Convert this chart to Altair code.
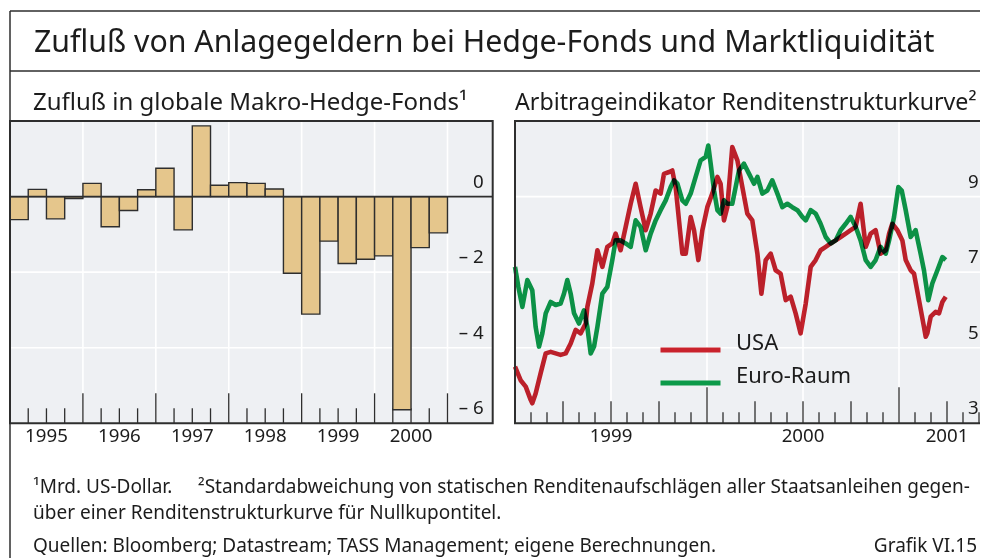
import altair as alt
import pandas as pd

# ---------------- data ----------------
# Left panel: quarterly inflows into global macro hedge funds (bn USD)
QUARTERS = ["1995 Q1", "1995 Q2", "1995 Q3", "1995 Q4",
            "1996 Q1", "1996 Q2", "1996 Q3", "1996 Q4",
            "1997 Q1", "1997 Q2", "1997 Q3", "1997 Q4",
            "1998 Q1", "1998 Q2", "1998 Q3", "1998 Q4",
            "1999 Q1", "1999 Q2", "1999 Q3", "1999 Q4",
            "2000 Q1", "2000 Q2", "2000 Q3", "2000 Q4"]
FLOWS = [-0.61, 0.19, -0.59, -0.05,
         0.35, -0.80, -0.37, 0.18,
         0.75, -0.88, 1.87, 0.30,
         0.37, 0.35, 0.20, -2.03,
         -3.11, -1.18, -1.77, -1.66,
         -1.57, -5.64, -1.35, -0.96]
LEFT_YEARS = [1995, 1996, 1997, 1998, 1999, 2000]
LEFT_YEAR_LABELS = ["1995", "1996", "1997", "1998", "1999", "2000"]
LEFT_Y_TICKS = [0, -2, -4, -6]
LEFT_Y_LABELS = ["0", "– 2", "– 4", "– 6"]

# Right panel: arbitrage indicator (months since Jan 1999, value)
USA_MONTHS = [0.00, 0.35, 0.67, 0.98, 1.08, 1.29, 1.60, 1.92, 2.23, 2.54,
              2.85, 3.17, 3.48, 3.79, 4.10, 4.42, 4.52, 4.83, 5.15, 5.46,
              5.77, 6.08, 6.29, 6.60, 6.92, 7.23, 7.54, 7.85, 8.17, 8.48,
              8.79, 9.10, 9.31, 9.63, 9.83, 10.04, 10.25, 10.46, 10.67, 10.98,
              11.19, 11.46, 11.71, 12.02, 12.33, 12.65, 12.85, 13.06, 13.27, 13.58,
              13.90, 14.21, 14.52, 14.83, 15.15, 15.40, 15.67, 15.98, 16.29, 16.60,
              16.92, 17.23, 17.54, 17.85, 18.17, 18.48, 18.79, 19.10, 19.42, 19.73,
              20.04, 20.35, 20.67, 20.98, 21.29, 21.60, 21.92, 22.23, 22.54, 22.85,
              23.17, 23.38, 23.58, 23.90, 24.21, 24.42, 24.73, 24.94, 25.25, 25.56,
              25.67, 25.77, 25.98, 26.29, 26.50, 26.71, 26.92]
USA = [4.50, 4.14, 3.97, 3.62, 3.53, 3.79, 4.32, 4.85, 4.89, 4.85,
       4.81, 4.85, 5.11, 5.47, 5.38, 5.64, 6.08, 6.70, 7.58, 7.14,
       7.67, 7.76, 8.02, 7.58, 8.20, 8.81, 9.34, 8.72, 8.11, 8.55,
       9.16, 9.08, 9.60, 9.65, 9.69, 9.25, 8.37, 7.49, 7.49, 8.46,
       8.11, 7.32, 8.11, 8.72, 9.08, 9.52, 9.34, 8.37, 8.72, 10.31,
       9.96, 9.25, 8.55, 8.37, 7.49, 6.43, 7.32, 7.49, 7.05, 6.96,
       6.26, 6.35, 5.91, 5.38, 6.17, 7.14, 7.32, 7.58, 7.67, 7.76,
       7.84, 7.93, 8.02, 8.11, 8.20, 8.81, 7.67, 8.02, 8.11, 7.49,
       7.58, 8.02, 8.28, 8.11, 7.84, 7.32, 7.05, 6.96, 6.26, 5.55,
       5.29, 5.38, 5.82, 5.95, 5.91, 6.21, 6.35]
EURO_MONTHS = [0.00, 0.21, 0.46, 0.77, 1.08, 1.29, 1.50, 1.71, 1.92, 2.23,
               2.54, 2.85, 3.06, 3.27, 3.48, 3.69, 4.00, 4.31, 4.52, 4.73,
               4.94, 5.15, 5.46, 5.77, 6.08, 6.29, 6.60, 6.92, 7.23, 7.54,
               7.85, 8.17, 8.48, 8.79, 9.10, 9.42, 9.73, 9.94, 10.15, 10.46,
               10.67, 10.98, 11.29, 11.60, 11.92, 12.08, 12.23, 12.44, 12.65, 12.85,
               13.06, 13.27, 13.58, 13.79, 14.00, 14.31, 14.63, 14.94, 15.15, 15.46,
               15.77, 16.08, 16.40, 16.71, 17.02, 17.33, 17.65, 17.96, 18.17, 18.48,
               18.79, 19.10, 19.42, 19.73, 20.04, 20.35, 20.67, 20.98, 21.29, 21.60,
               21.92, 22.23, 22.54, 22.85, 23.17, 23.38, 23.69, 23.96, 24.17, 24.42,
               24.73, 25.04, 25.35, 25.56, 25.83, 26.08, 26.40, 26.71, 26.92]
EURO = [7.14, 6.61, 6.08, 6.79, 6.52, 5.55, 5.03, 5.38, 5.91, 6.21,
        6.13, 6.17, 6.43, 6.79, 6.43, 5.91, 5.64, 5.99, 5.55, 4.85,
        5.03, 5.55, 6.43, 6.61, 7.32, 7.84, 7.84, 7.76, 7.67, 8.37,
        8.20, 7.58, 8.02, 8.37, 8.64, 8.90, 9.25, 9.43, 9.34, 8.90,
        8.81, 9.08, 9.52, 9.96, 10.05, 10.35, 9.87, 9.16, 8.64, 8.55,
        8.90, 8.81, 8.81, 9.25, 9.69, 9.87, 9.60, 9.34, 9.52, 9.08,
        9.16, 9.43, 9.08, 8.72, 8.81, 8.72, 8.64, 8.46, 8.37, 8.64,
        8.55, 8.28, 7.93, 7.76, 7.84, 8.11, 8.28, 8.46, 8.20, 7.84,
        7.32, 7.14, 7.32, 7.67, 7.49, 7.84, 8.46, 9.25, 9.16, 8.64,
        7.93, 8.11, 7.49, 7.05, 6.26, 6.70, 7.05, 7.40, 7.32]
SERIES = ["USA", "Euro-Raum"]
RIGHT_YEAR_LABELS = ["1999", "2000", "2001"]
RIGHT_YEAR_POS = [6, 18, 27]
RIGHT_Y_TICKS = [9, 7, 5, 3]
RIGHT_Y_LABELS = ["9", "7", "5", "3"]

TITLE = "Zufluß von Anlagegeldern bei Hedge-Fonds und Marktliquidität"
LEFT_TITLE = "Zufluß in globale Makro-Hedge-Fonds¹"
RIGHT_TITLE = "Arbitrageindikator Renditenstrukturkurve²"
NOTE_1A = "¹Mrd. US-Dollar."
NOTE_1B = "²Standardabweichung von statischen Renditenaufschlägen aller Staatsanleihen gegen-"
NOTE_2 = "über einer Renditenstrukturkurve für Nullkupontitel."
NOTE_3 = "Quellen: Bloomberg; Datastream; TASS Management; eigene Berechnungen."
NOTE_GRAFIK = "Grafik VI.15"

# ---------------- style / layout ----------------
FONT = "Noto Sans"
DARK = "#2e2e2e"
TEXT = "#1c1c1c"
PANEL_BG = "#eef0f3"
BAR_FILL = "#e5c68c"
RED = "#c9222c"
GREEN = "#0c9a49"

W, H = 972, 550
PLOT_TOP, PLOT_BOTTOM = 113, 415.3
L_XDOM, L_XRANGE = [1995, 2001.62], [2, 484.7]
L_YDOM = [-6, 2]
R_XDOM, R_XRANGE = [0, 30], [507, 987]
R_YDOM = [3, 11]


def px_to_units(px, dom):
    return px * (dom[1] - dom[0]) / (PLOT_BOTTOM - PLOT_TOP)


def sx(field, dom, rng):
    return alt.X(field, type="quantitative", axis=None,
                 scale=alt.Scale(domain=dom, range=rng, nice=False, zero=False))


def sy(field, dom):
    return alt.Y(field, type="quantitative", axis=None,
                 scale=alt.Scale(domain=dom, range=[PLOT_BOTTOM, PLOT_TOP], nice=False, zero=False))


def panel_layers(xdom, xrng, ydom, vgrid, hgrid, ticks, ylabels, ylabel_vals, ylabel_dx, ylabel_align,
                 xlabels, xlabel_pos):
    X = lambda f: sx(f, xdom, xrng)
    Y = lambda f: sy(f, ydom)
    box = pd.DataFrame({"x0": [xdom[0]], "x1": [xdom[1]], "y0": [ydom[0]], "y1": [ydom[1]]})
    bg = alt.Chart(box).mark_rect(fill=PANEL_BG, strokeWidth=0).encode(
        x=X("x0"), x2="x1", y=Y("y0"), y2="y1")
    vg = alt.Chart(pd.DataFrame({"x": vgrid, "y0": ydom[0], "y1": ydom[1]})).mark_rule(
        color="white", strokeWidth=1.6).encode(x=X("x"), y=Y("y0"), y2="y1")
    hg = alt.Chart(pd.DataFrame({"y": hgrid, "x0": xdom[0], "x1": xdom[1]})).mark_rule(
        color="white", strokeWidth=1.6).encode(y=Y("y"), x=X("x0"), x2="x1")
    tk = alt.Chart(pd.DataFrame(ticks)).mark_rule(color=DARK, strokeWidth=1.3).encode(
        x=X("x"), y=Y("y0"), y2="y1")
    yl = alt.Chart(pd.DataFrame({"y": ylabel_vals, "label": ylabels, "x": xdom[1]})).mark_text(
        align=ylabel_align, baseline="alphabetic", dx=ylabel_dx, dy=-9, font=FONT, fontSize=18.7,
        color=TEXT).encode(x=X("x"), y=Y("y"), text="label:N")
    xl = alt.Chart(pd.DataFrame({"x": xlabel_pos, "label": xlabels, "y": ydom[0]})).mark_text(
        align="center", baseline="alphabetic", dy=19, font=FONT, fontSize=18.7, color=TEXT).encode(
        x=X("x"), y=Y("y"), text="label:N")
    frame = alt.Chart(box).mark_rect(fill="transparent", stroke=DARK, strokeWidth=2).encode(
        x=X("x0"), x2="x1", y=Y("y0"), y2="y1")
    return bg, vg, hg, tk, yl, xl, frame


# ---- left panel ----
starts = [int(q[:4]) + (int(q[-1]) - 1) * 0.25 for q in QUARTERS]
bars_df = pd.DataFrame({"start": starts, "end": [s + 0.25 for s in starts],
                        "zero": 0.0, "value": FLOWS})
l_ticks = []
for y in LEFT_YEARS + [2001]:
    if y > 1995:
        l_ticks.append({"x": y, "y0": L_YDOM[0], "y1": L_YDOM[0] + px_to_units(30, L_YDOM)})
    if y < 2001:
        for q in (0.25, 0.5, 0.75):
            l_ticks.append({"x": y + q, "y0": L_YDOM[0], "y1": L_YDOM[0] + px_to_units(15, L_YDOM)})

lbg, lvg, lhg, ltk, lyl, lxl, lframe = panel_layers(
    L_XDOM, L_XRANGE, L_YDOM, [1996, 1997, 1998, 1999, 2000, 2001], [-2, -4],
    l_ticks, LEFT_Y_LABELS, LEFT_Y_TICKS, -9, "right",
    LEFT_YEAR_LABELS, [y + 0.5 for y in LEFT_YEARS])

LX = lambda f: sx(f, L_XDOM, L_XRANGE)
LY = lambda f: sy(f, L_YDOM)
bars = alt.Chart(bars_df).mark_rect(fill=BAR_FILL, stroke=DARK, strokeWidth=1.4).encode(
    x=LX("start"), x2="end", y=LY("zero"), y2="value")
zero_line = alt.Chart(pd.DataFrame({"y": [0], "x0": L_XDOM[0], "x1": L_XDOM[1]})).mark_rule(
    color=DARK, strokeWidth=1.6).encode(y=LY("y"), x=LX("x0"), x2="x1")

left = alt.layer(lbg, lvg, lhg, ltk, bars, zero_line, lyl, lxl, lframe)

# ---- right panel ----
r_ticks = []
for m in range(1, 30):
    if m % 12 == 0:
        L = 36
    elif m % 3 == 0:
        L = 22
    else:
        L = 11
    r_ticks.append({"x": m, "y0": R_YDOM[0], "y1": R_YDOM[0] + px_to_units(L, R_YDOM)})

rbg, rvg, rhg, rtk, ryl, rxl, rframe = panel_layers(
    R_XDOM, R_XRANGE, R_YDOM, [6, 12, 18, 24], [5, 7, 9],
    r_ticks, RIGHT_Y_LABELS, RIGHT_Y_TICKS, -27, "left",
    RIGHT_YEAR_LABELS, RIGHT_YEAR_POS)

lines_df = pd.concat([
    pd.DataFrame({"m": USA_MONTHS, "v": USA, "series": SERIES[0]}),
    pd.DataFrame({"m": EURO_MONTHS, "v": EURO, "series": SERIES[1]}),
])
RX = lambda f: sx(f, R_XDOM, R_XRANGE)
RY = lambda f: sy(f, R_YDOM)
lines = alt.Chart(lines_df).mark_line(strokeWidth=4.6, strokeJoin="round", blend="multiply").encode(
    x=RX("m"), y=RY("v"),
    color=alt.Color("series:N", sort=SERIES,
                    scale=alt.Scale(domain=SERIES, range=[RED, GREEN]),
                    legend=alt.Legend(orient="none", legendX=650, legendY=327, title=None,
                                      symbolType="stroke", symbolSize=3600, symbolStrokeWidth=5,
                                      clipHeight=30, rowPadding=0, padding=0,
                                      labelFont=FONT, labelFontSize=22, labelColor=TEXT,
                                      labelBaseline="alphabetic", labelOffset=13,
                                      labelLimit=300)),
    order="series:N",
)
right = alt.layer(rbg, rvg, rhg, rtk, lines, ryl, rxl, rframe)

# ---- decorations: outer box, titles, notes ----
one = pd.DataFrame({"a": [0]})
rule_top = alt.Chart(one).mark_rule(color=DARK, strokeWidth=1.5).encode(
    x=alt.value(2), x2=alt.value(W), y=alt.value(3))
rule_mid = alt.Chart(one).mark_rule(color=DARK, strokeWidth=1.5).encode(
    x=alt.value(2), x2=alt.value(W), y=alt.value(63))
rule_left = alt.Chart(one).mark_rule(color=DARK, strokeWidth=1.5).encode(
    x=alt.value(2), y=alt.value(3), y2=alt.value(H))


def txt(s, x, y, size, align="left"):
    return alt.Chart(pd.DataFrame({"t": [s]})).mark_text(
        align=align, baseline="alphabetic", font=FONT, fontSize=size, color=TEXT).encode(
        x=alt.value(x), y=alt.value(y), text="t:N")


decor = [rule_top, rule_mid, rule_left,
         txt(TITLE, 26, 44, 30.3),
         txt(LEFT_TITLE, 25, 101.5, 24),
         txt(RIGHT_TITLE, 507, 101.5, 23.2),
         txt(NOTE_1A, 25, 485, 19),
         txt(NOTE_1B, 190, 485, 19),
         txt(NOTE_2, 25, 511, 19),
         txt(NOTE_3, 25, 544, 19),
         txt(NOTE_GRAFIK, 969, 544, 19, align="right")]

chart = alt.layer(left, right, *decor).resolve_scale(
    x="independent", y="independent", color="independent"
).properties(
    width=W, height=H, autosize=alt.AutoSizeParams(type="none"), padding=0,
    background="white"
).configure_view(stroke=None)

chart.save("out.html", embed_options={"renderer": "svg", "actions": False})
